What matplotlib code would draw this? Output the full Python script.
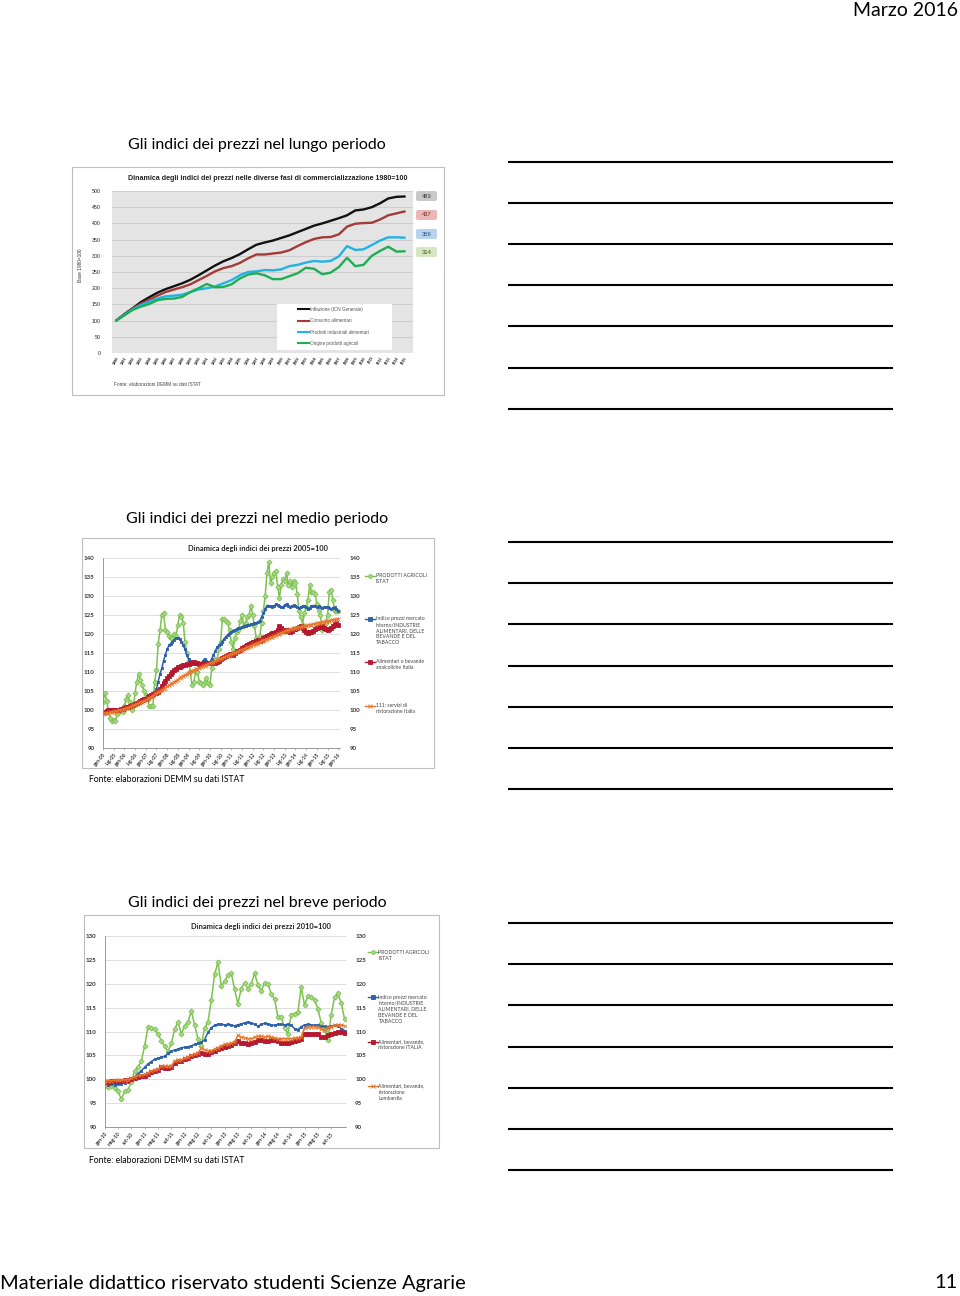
import matplotlib
matplotlib.use('Agg')
import matplotlib.pyplot as plt
from matplotlib.patches import Rectangle, FancyBboxPatch
import numpy as np

plt.rcParams['font.family'] = ['Lato', 'DejaVu Sans']

W, H = 960, 1296

# ---------------------------------------------------------------- data
# chart 1: yearly 1980..2015, base 1980=100
years1 = list(range(1980, 2016))
inflazione = [100, 120, 138, 157, 172, 186, 197, 206, 215, 226, 240, 255,
              270, 283, 293, 305, 320, 334, 341, 347, 355, 363, 373, 383,
              393, 400, 408, 416, 425, 440, 443, 450, 462, 477, 482, 483]
consumo = [100, 118, 137, 152, 165, 177, 188, 196, 203, 212, 225, 238,
           252, 262, 268, 278, 292, 304, 304, 307, 310, 317, 330, 342,
           352, 357, 358, 366, 390, 399, 401, 402, 412, 425, 431, 437]
industria = [100, 118, 135, 148, 158, 168, 175, 177, 180, 188, 196, 200,
             205, 215, 225, 240, 250, 252, 256, 255, 258, 268, 272, 279,
             284, 282, 284, 298, 330, 318, 320, 333, 347, 357, 357, 356]
agricoli = [100, 116, 133, 143, 151, 163, 167, 168, 173, 188, 200, 213,
            203, 204, 212, 230, 242, 246, 240, 228, 228, 237, 246, 263,
            260, 243, 248, 265, 294, 268, 272, 300, 315, 328, 313, 314]
names1 = ['Inflazione (ICN Generale)', 'Consumo alimentari',
          'Prodotti industriali alimentari', 'Origine prodotti agricoli']

# chart 2: monthly gen-05 .. gen-16, base 2005=100
agr2 = [102, 104.5, 102.5, 100, 98, 97, 97.5, 97, 99, 99.5, 100, 99.5,
        101, 103, 104, 102, 100, 101, 104.5, 107.5, 109.5, 108, 106.5, 105,
        104, 103, 101, 101, 101, 107.5, 110.5, 117.5, 121, 125, 125.5, 121,
        120.5, 119.5, 119, 119, 120, 119.5, 122.5, 125, 124.5, 123, 118, 115,
        113, 110, 106.5, 107.5, 110, 110, 107.5, 107, 106.5, 107.5, 108.5, 107,
        106.5, 111, 113, 113.5, 113, 116, 118, 124, 124, 123.5, 123, 121,
        118, 116, 119, 120.5, 121, 123.5, 125, 122, 123, 124.5, 125, 127.5,
        125, 122, 119, 118, 119.5, 123, 126, 130, 136, 139, 133.5, 135,
        136, 136.5, 132.5, 129.5, 133, 134.5, 134, 136, 133, 134, 132.5, 134,
        133.5, 130.5, 126, 124.5, 122.5, 125.5, 127, 129, 133, 131, 131, 130.5,
        128, 126, 125, 121, 121.5, 123, 125, 131, 131.5, 129, 126, 126, 126]
ind2 = [99.5, 99.7, 99.8, 100, 100, 100.2, 100, 99.8, 99.8, 100, 100, 100.2,
        100.5, 100.6, 100.8, 101, 101.2, 101.4, 101.6, 101.8, 102, 102.2, 102.5, 102.7,
        103, 103.2, 103.4, 103.6, 104, 104.5, 105.5, 107.5, 109.5, 111, 113, 114.5,
        116, 117, 117.5, 118, 118.5, 119, 119, 118.8, 118, 117, 116, 114.5,
        113.5, 113, 112.8, 112.6, 112.5, 112.5, 112.4, 112.5, 112.8, 113.5, 113, 112.6,
        112.5, 113.5, 114.5, 115.5, 116.5, 117, 117.5, 118, 118.8, 119.3, 119.8, 120.3,
        120.6, 120.9, 121.1, 121.3, 121.5, 121.7, 121.9, 122, 122.2, 122.3, 122.4, 122.6,
        122.7, 122.9, 123, 123.2, 123.5, 124.5, 125.5, 126.5, 127.5, 127.5, 127.3, 127.2,
        127.4, 127.8, 127.6, 127.3, 127, 127.2, 127.6, 127.9, 127.5, 127.2, 127.3, 127.6,
        127.4, 127.1, 126.8, 127, 127.4, 127.5, 127.1, 126.7, 126.9, 127.3, 127.5, 127.4,
        127.2, 127.3, 127.1, 126.9, 127, 127.2, 127, 126.8, 126.6, 126.9, 127, 126.5, 126]
alim2 = [99.5, 99.6, 99.8, 99.9, 100, 100, 100, 99.9, 99.9, 100, 100.2, 100.3,
         100.5, 100.7, 100.9, 101, 101.2, 101.4, 101.6, 101.9, 102.1, 102.3, 102.6, 102.8,
         103, 103.3, 103.6, 103.9, 104.2, 104.4, 104.5, 104.8, 105.5, 106.3, 107, 107.7,
         108.3, 108.9, 109.5, 110, 110.5, 110.9, 111.2, 111.4, 111.6, 111.8, 111.9, 112,
         112.2, 112.4, 112.5, 112.6, 112.5, 112.3, 112.2, 112.1, 112.2, 112.3, 112.4, 112.4,
         112.3, 112.4, 112.5, 112.5, 112.7, 113, 113.4, 113.6, 113.9, 114.2, 114.5, 114.8,
         114.7, 114.6, 115, 115.4, 115.6, 115.9, 116.3, 116.6, 116.9, 117.1, 117.4, 117.7,
         117.8, 118, 118.2, 118.3, 118.2, 118.5, 118.9, 119.2, 119.5, 119.8, 120.1, 120.2,
         120.3, 120.5, 121, 122, 121.5, 121, 120.8, 121, 120.7, 120.5, 120.8, 121.2,
         121.3, 121.5, 121.8, 122, 121.5, 121, 120.5, 120.3, 120.4, 120.6, 120.8, 121.3,
         121.6, 121.8, 121.9, 122, 121.6, 121.2, 121.1, 121.3, 121.7, 122.2, 122.6, 122.8, 122.5]
rist2 = [99, 99.1, 99.2, 99.3, 99.4, 99.5, 99.6, 99.7, 99.8, 99.9, 100, 100.1,
         100.2, 100.4, 100.6, 100.8, 101, 101.2, 101.4, 101.6, 101.8, 102, 102.2, 102.4,
         102.6, 102.9, 103.2, 103.5, 103.8, 104.1, 104.4, 104.7, 105, 105.3, 105.6, 105.9,
         106.2, 106.5, 106.8, 107.1, 107.4, 107.7, 108, 108.3, 108.6, 108.9, 109.2, 109.5,
         109.8, 110.1, 110.3, 110.5, 110.7, 110.9, 111.1, 111.3, 111.5, 111.7, 111.9, 112.1,
         112.3, 112.5, 112.7, 112.9, 113.1, 113.3, 113.5, 113.7, 113.9, 114.1, 114.3, 114.5,
         114.7, 114.9, 115.1, 115.3, 115.5, 115.7, 115.9, 116.1, 116.3, 116.5, 116.7, 116.9,
         117.1, 117.3, 117.5, 117.7, 117.9, 118.1, 118.3, 118.5, 118.7, 118.9, 119.1, 119.3,
         119.5, 119.7, 119.9, 120.1, 120.3, 120.5, 120.7, 120.9, 121.1, 121.3, 121.4, 121.5,
         121.6, 121.7, 121.8, 121.9, 122, 122.1, 122.2, 122.3, 122.4, 122.5, 122.6, 122.7,
         122.8, 122.9, 123, 123.1, 123.2, 123.3, 123.4, 123.5, 123.6, 123.7, 123.8, 123.9, 124]
xlab2 = ['gen-05', 'lug-05', 'gen-06', 'lug-06', 'gen-07', 'lug-07', 'gen-08',
         'lug-08', 'gen-09', 'lug-09', 'gen-10', 'lug-10', 'gen-11', 'lug-11',
         'gen-12', 'lug-12', 'gen-13', 'lug-13', 'gen-14', 'lug-14', 'gen-15',
         'lug-15', 'gen-16']
names2 = ['PRODOTTI AGRICOLI\nISTAT',
          'Indice prezzi mercato\ninterno/INDUSTRIE\nALIMENTARI, DELLE\nBEVANDE E DEL\nTABACCO',
          'Alimentari e bevande\nanalcoliche Italia',
          '111: servizi di\nristorazione Italia']

# chart 3: monthly gen-10 .. gen-16, base 2010=100
agr3 = [98.5, 98.3, 98.5, 98.2, 97.5, 95.8, 97.5, 97.8, 99.5, 101.8, 102.5, 103.8,
        107, 111, 110.8, 110.5, 109.5, 108, 107, 105.8, 107.5, 110.5, 112, 109.5,
        111.2, 112, 114.3, 111.3, 108.5, 107, 110.8, 112, 116.5, 122, 124.5, 119.5,
        120.5, 121.8, 122.3, 118.8, 115.8, 119, 120.2, 119, 120, 122.2, 119.8, 118.5,
        120.2, 120, 117.8, 116.8, 113, 113, 110.8, 109.5, 113.5, 113.7, 114, 119.3,
        115.5, 117.5, 117.3, 116.5, 114.8, 111.8, 110.3, 108.3, 113.5, 117.2, 118, 116, 112.7]
ind3 = [99.2, 98.9, 99, 98.9, 99, 99.1, 99.3, 99.5, 100, 100.5, 101.2, 101.8,
        102.5, 103.2, 103.7, 104.2, 104.4, 104.6, 104.8, 105.4, 105.9, 106.1, 106.3, 106.6,
        106.7, 106.8, 107, 107.3, 107.5, 107.7, 108.3, 109.8, 110.8, 111.3, 111.5, 111.5,
        111.4, 111.5, 111.3, 111.2, 111.4, 111.6, 111.8, 112, 111.8, 111.5, 111.1, 111.5,
        111.7, 111.6, 111.4, 111.3, 111.5, 111.5, 111.4, 111.5, 111.3, 110.6, 110.4, 111,
        111.4, 111.5, 111.4, 111.3, 111.3, 111.2, 111.1, 111, 111.2, 111.3, 111.2, 110.6, 110.2]
ita3 = [99.5, 99.5, 99.6, 99.6, 99.7, 99.7, 99.8, 99.8, 100, 100.3, 100.5, 100.6,
        100.7, 101.1, 101.5, 101.8, 102, 102.6, 102.3, 102.3, 102.5, 103.5, 103.8, 103.8,
        104.2, 104.5, 104.8, 105, 105.2, 105.5, 105.2, 105.3, 105.8, 106, 106.3, 106.5,
        106.8, 107, 107.2, 107.5, 108, 107.6, 107.5, 107.4, 107.5, 107.8, 108.2, 108.3,
        108, 108, 108.2, 108.3, 108, 107.5, 107.5, 107.6, 107.8, 108, 108.3, 108.5,
        109.5, 109.5, 109.4, 109.5, 109.5, 108.8, 108.8, 109.2, 109.5, 109.7, 109.8, 109.9, 109.7]
lomb3 = [99.6, 99.7, 99.7, 99.8, 99.8, 99.8, 99.9, 99.9, 100.2, 100.5, 100.8, 100.9,
         101, 101.4, 101.7, 102, 102.2, 102.7, 102.8, 102.7, 102.8, 103.8, 104, 104.1,
         104.4, 104.7, 105, 105.3, 105.5, 106.5, 106.2, 106, 106, 106.3, 106.6, 107,
         107.3, 107.4, 107.6, 107.8, 109.2, 108.8, 108.7, 108.5, 108.5, 108.8, 109, 109,
         108.8, 109, 108.8, 108.6, 108.5, 108.5, 108.5, 108.5, 108.5, 108.6, 108.7, 108.9,
         110.8, 110.9, 111, 111, 110.9, 110.5, 110.3, 110.8, 111, 111.3, 111.4, 111.4, 111.2]
xlab3 = ['gen-10', 'mag-10', 'set-10', 'gen-11', 'mag-11', 'set-11',
         'gen-12', 'mag-12', 'set-12', 'gen-13', 'mag-13', 'set-13',
         'gen-14', 'mag-14', 'set-14', 'gen-15', 'mag-15', 'set-15']
names3 = ['PRODOTTI AGRICOLI\nISTAT',
          'Indice prezzi mercato\ninterno/INDUSTRIE\nALIMENTARI, DELLE\nBEVANDE E DEL\nTABACCO',
          'Alimentari, bevande,\nristorazione ITALIA',
          'Alimentari, bevande,\nristorazione\nLombardia']

# ---------------------------------------------------------------- styles
c1 = ['#111111', '#a33b37', '#22b2e6', '#1eae55']
box1 = ['#c9c9c9', '#e8b8b6', '#b7d3ee', '#d6e6c0']
txt1 = ['#333333', '#7a1f1b', '#1f4f80', '#3b5a1c']
c2 = ['#7cc24e', '#2c5fa8', '#b5182f', '#e8772e']
mk2 = ['D', 's', 's', 'x']
ms2 = [2.6, 2.0, 2.2, 2.8]
arial = 'Liberation Sans'


def px_rect(x0, y0, x1, y1):
    return [x0 / W, 1 - y1 / H, (x1 - x0) / W, (y1 - y0) / H]


def page_axes():
    a = fig.add_axes([0, 0, 1, 1], facecolor='none')
    a.set_xlim(0, W)
    a.set_ylim(H, 0)
    a.axis('off')
    return a


fig = plt.figure(figsize=(W / 100, H / 100), dpi=100)
pg = page_axes()

# page header / footer
pg.text(958, 10, 'Marzo 2016', ha='right', va='center', fontsize=14)
pg.text(0, 1283, 'Materiale didattico riservato studenti Scienze Agrarie',
        ha='left', va='center', fontsize=14.45)
pg.text(958, 1283, '11', ha='right', va='center', fontsize=14.5)

# note lines
for y0 in (161.5, 542, 923):
    for i in range(7):
        y = y0 + i * 41.2
        pg.plot([508, 893], [y, y], color='black', lw=1.5, solid_capstyle='butt')

# slide titles
pg.text(257, 145, 'Gli indici dei prezzi nel lungo periodo', ha='center', va='center', fontsize=11.5)
pg.text(257, 519, 'Gli indici dei prezzi nel medio periodo', ha='center', va='center', fontsize=11.5)
pg.text(257, 903, 'Gli indici dei prezzi nel breve periodo', ha='center', va='center', fontsize=11.5)
pg.text(89, 779.5, 'Fonte: elaborazioni DEMM su dati ISTAT', ha='left', va='center', fontsize=6.2)
pg.text(89, 1160.5, 'Fonte: elaborazioni DEMM su dati ISTAT', ha='left', va='center', fontsize=6.2)

# chart frames
for (x0, y0, x1, y1) in [(72, 167, 444, 395), (82, 538, 434, 768), (84, 915, 439, 1148)]:
    pg.add_patch(Rectangle((x0, y0), x1 - x0, y1 - y0, fc='white', ec='#bdbdbd', lw=0.8))

# ---------------------------------------------------------------- chart 1
pg.text(268, 178.5, 'Dinamica degli indici dei prezzi nelle diverse fasi di commercializzazione 1980=100',
        ha='center', va='center', fontsize=5.1, fontweight='bold', family=arial, color='#222222')
pg.text(80.5, 265, 'Base 1980=100', rotation=90, ha='center', va='center', fontsize=3.4,
        family=arial, color='#333333')
pg.text(114, 384, 'Fonte: elaborazioni DEMM su dati ISTAT', ha='left', va='center', fontsize=3.4,
        family=arial, color='#444444')

a1 = fig.add_axes(px_rect(112, 191, 413, 353))
a1.set_facecolor('#e4e4e4')
series1 = [inflazione, consumo, industria, agricoli]
for s, c in zip(series1, c1):
    a1.plot(years1, s, color=c, lw=1.7, solid_joinstyle='round', solid_capstyle='round')
a1.set_xlim(1979.5, 2016)
a1.set_ylim(0, 500)
a1.set_yticks(np.arange(0, 501, 50))
a1.yaxis.grid(True, color='#cdcdcd', lw=0.7)
a1.set_axisbelow(True)
a1.set_xticks(years1)
a1.set_xticklabels([str(y) for y in years1], rotation=60, ha='right', rotation_mode='anchor',
                   fontsize=2.8, fontweight='bold', family=arial, color='#222222')
a1.tick_params(length=0, pad=2)
for lab in a1.get_yticklabels():
    lab.set_fontsize(3.8)
    lab.set_family(arial)
    lab.set_color('#222222')
a1.tick_params(axis='y', pad=8)
for sp in a1.spines.values():
    sp.set_visible(False)


# ---------------------------------------------------------------- chart 2 and 3
def monthly_chart(rect, series, ylo, yhi, ticks, labels, xmax):
    ax = fig.add_axes(px_rect(*rect))
    for s, c, m, ms in zip(series, c2, mk2, ms2):
        x = np.arange(len(s))
        ax.plot(x, s, color=c, lw=1.1, marker=m, markersize=ms, markeredgewidth=0.6,
                markerfacecolor=c if m != 'D' else '#a8d888', markeredgecolor=c)
    ax.set_xlim(0, xmax)
    ax.set_ylim(ylo, yhi)
    ax.set_yticks(np.arange(ylo, yhi + 1, 5))
    ax.yaxis.grid(True, color='#d9d9d9', lw=0.6)
    ax.set_axisbelow(True)
    ax.set_xticks(ticks)
    ax.set_xticklabels(labels, rotation=50, ha='right', rotation_mode='anchor', fontsize=3.5,
                       fontweight='bold', color='#333333')
    ax.tick_params(axis='x', length=1.5, width=0.4, color='#888888', pad=1.5)
    ax.tick_params(axis='y', length=0, pad=6)
    for lab in ax.get_yticklabels():
        lab.set_fontsize(4.4)
        lab.set_fontweight('bold')
        lab.set_color('#333333')
    for k in ('top', 'right'):
        ax.spines[k].set_visible(False)
    for k in ('left', 'bottom'):
        ax.spines[k].set_color('#8a8a8a')
        ax.spines[k].set_linewidth(0.6)
    tw = ax.twinx()
    tw.set_ylim(ylo, yhi)
    tw.set_yticks(np.arange(ylo, yhi + 1, 5))
    tw.tick_params(axis='y', length=0, pad=7)
    for lab in tw.get_yticklabels():
        lab.set_fontsize(4.4)
        lab.set_fontweight('bold')
        lab.set_color('#333333')
    for sp in tw.spines.values():
        sp.set_visible(False)
    return ax


def legend_block(names, x0, ys):
    for name, c, m, y in zip(names, c2, mk2, ys):
        pg.plot([x0, x0 + 5, x0 + 10], [y, y, y], color=c, lw=1.0, marker=m, markevery=[1],
                markersize=2.4, markeredgewidth=0.6,
                markerfacecolor=c if m != 'D' else '#a8d888', markeredgecolor=c)
        pg.text(x0 + 10.5, y - 2.3, name, ha='left', va='top', fontsize=3.7,
                linespacing=1.25, color='#444444')


pg.text(258, 548, 'Dinamica degli indici dei prezzi 2005=100', ha='center', va='center',
        fontsize=5.4, fontweight='bold', color='#222222')
monthly_chart((103, 558, 340, 748), [agr2, ind2, alim2, rist2], 90, 140,
              np.arange(0, 133, 6), xlab2, 133)
legend_block(names2, 365, (575.5, 618.5, 661.5, 705.5))

pg.text(261, 926, 'Dinamica degli indici dei prezzi 2010=100', ha='center', va='center',
        fontsize=5.4, fontweight='bold', color='#222222')
monthly_chart((104.7, 936, 345.5, 1127), [agr3, ind3, ita3, lomb3], 90, 130,
              np.arange(0, 69, 4), xlab3, 72.3)
legend_block(names3, 368, (952, 997, 1041.5, 1086))

# ---------------------------------------------------------------- overlays on chart 1
ov = page_axes()
for s, y, fc, tc in zip(series1, (196, 215, 234, 252), box1, txt1):
    ov.add_patch(FancyBboxPatch((416, y - 5), 21, 10, boxstyle='round,pad=0,rounding_size=2',
                                fc=fc, ec='none'))
    ov.text(426.5, y, '%d' % s[-1], ha='center', va='center', fontsize=4.2, family=arial, color=tc)

ov.add_patch(Rectangle((277, 304), 115, 46, fc='white', ec='none'))
for name, c, y in zip(names1, c1, (309.3, 320.7, 332, 343.3)):
    ov.plot([298, 309], [y, y], color=c, lw=1.5)
    ov.text(309.5, y, name, ha='left', va='center', fontsize=3.3, family=arial, color='#555555')

fig.savefig('out.png', dpi=100, facecolor='white')
